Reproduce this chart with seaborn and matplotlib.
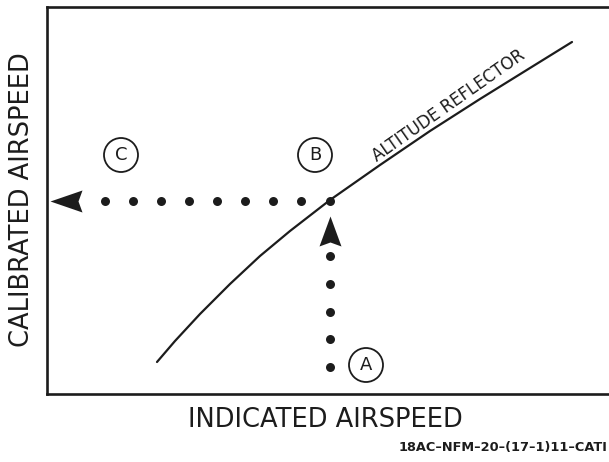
import numpy as np
import pandas as pd
import matplotlib
matplotlib.use("Agg")
import matplotlib.pyplot as plt
from matplotlib.path import Path
import seaborn as sns

# ---- data (chart units: image-like frame, y grows downward) ----
curve_x = [157, 175, 200, 230, 260, 290, 330, 380, 430, 480, 530, 572]
curve_y = [362, 341, 314, 284, 256, 231, 200, 165, 131, 99, 68, 42]

h_dots_x = [105, 133, 161, 189, 217, 245, 273, 301, 330]
h_dots_y = [201] * len(h_dots_x)
v_dots_x = [330, 330, 330, 330, 330]
v_dots_y = [256, 284, 312, 339, 367]

arrow_up_x, arrow_up_y = [330], [231]
arrow_left_x, arrow_left_y = [66], [201]

label_names = ["A", "B", "C"]
label_x = [366, 315, 121]
label_y = [365, 155, 155]

curve_label = "ALTITUDE REFLECTOR"
x_title = "INDICATED AIRSPEED"
y_title = "CALIBRATED AIRSPEED"
code_text = "18AC\u2013NFM\u201320\u2013(17\u20131)11\u2013CATI"

INK = "#1c1c1c"

sns.set_theme(style="white")
plt.rcParams["font.family"] = ["DejaVu Sans"]

fig = plt.figure(figsize=(6.09, 4.62), dpi=100)
W, H = 609, 462
left, right, top, bottom = 47, 609, 7, 394
ax = fig.add_axes([left / W, (H - bottom) / H, (right - left) / W, (bottom - top) / H])
ax.set_xlim(left, right)
ax.set_ylim(bottom, top)

for s in ["left", "top", "bottom"]:
    ax.spines[s].set_visible(True)
    ax.spines[s].set_color(INK)
    ax.spines[s].set_linewidth(1.9)
ax.spines["right"].set_visible(False)
ax.set_xticks([])
ax.set_yticks([])
ax.set_xlabel("")
ax.set_ylabel("")

curve_df = pd.DataFrame({"x": curve_x, "y": curve_y})
sns.lineplot(data=curve_df, x="x", y="y", sort=False, color=INK, linewidth=1.6, ax=ax)

dots_df = pd.DataFrame({"x": h_dots_x + v_dots_x, "y": h_dots_y + v_dots_y})
sns.scatterplot(data=dots_df, x="x", y="y", color=INK, s=42, linewidth=0, ax=ax, zorder=4)

up_marker = Path([(0, 15), (-11, -15), (0, -11), (11, -15), (0, 15)],
                 [Path.MOVETO, Path.LINETO, Path.LINETO, Path.LINETO, Path.CLOSEPOLY])
left_marker = Path([(-16, 0), (16, 11), (12, 0), (16, -11), (-16, 0)],
                   [Path.MOVETO, Path.LINETO, Path.LINETO, Path.LINETO, Path.CLOSEPOLY])
sns.scatterplot(x=arrow_up_x, y=arrow_up_y, marker=up_marker, s=(30 * 0.72) ** 2,
                color=INK, linewidth=0, ax=ax, zorder=5)
sns.scatterplot(x=arrow_left_x, y=arrow_left_y, marker=left_marker, s=(32 * 0.72) ** 2,
                color=INK, linewidth=0, ax=ax, zorder=5)

sns.scatterplot(x=label_x, y=label_y, marker="o", s=(34 * 0.72) ** 2,
                facecolor="none", edgecolor=INK, linewidth=1.3, ax=ax, zorder=5)
for n, lx, ly in zip(label_names, label_x, label_y):
    ax.text(lx, ly, n, ha="center", va="center", fontsize=13, color=INK,
            family=["Liberation Sans Narrow", "DejaVu Sans"], zorder=6)

ax.text(449, 106, curve_label, rotation=35, rotation_mode="anchor", ha="center", va="center",
        fontsize=12, color=INK, family=["Liberation Sans Narrow", "DejaVu Sans"])

fig.text(325 / W, 1 - 420 / H, x_title, ha="center", va="center", fontsize=18.5, color=INK)
fig.text(22 / W, 1 - 200 / H, y_title, ha="center", va="center", rotation=90, fontsize=18.5, color=INK)
fig.text(607 / W, 1 - 448 / H, code_text, ha="right", va="center", fontsize=9.3, color=INK,
         fontweight="bold", family=["Liberation Sans Narrow", "DejaVu Sans"])

fig.savefig("out.png", dpi=100, facecolor="white")
